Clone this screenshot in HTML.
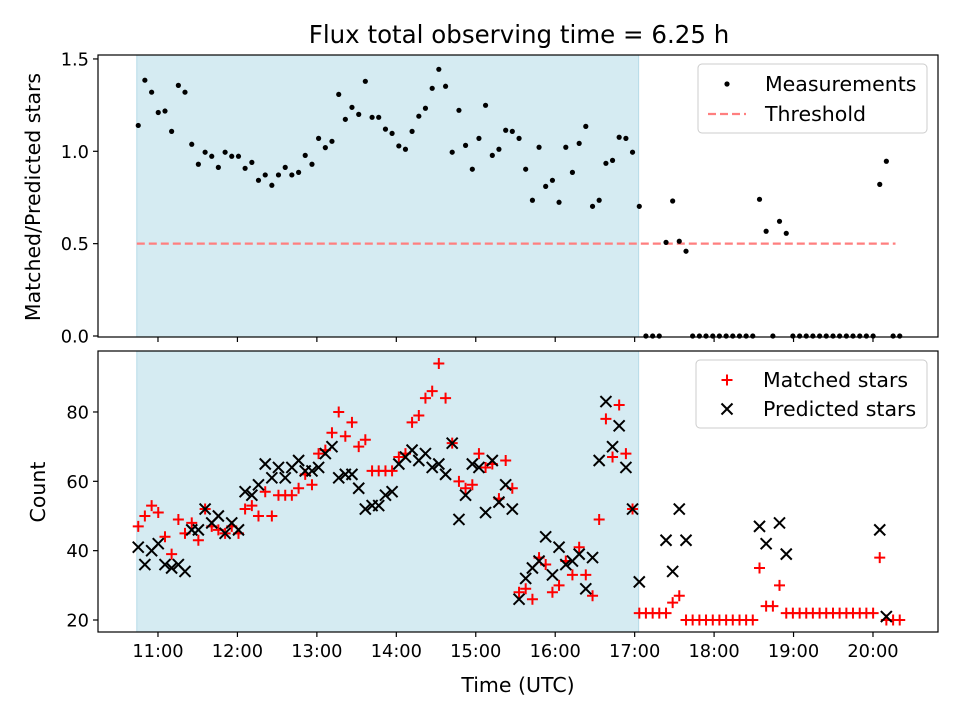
<!DOCTYPE html>
<html><head><meta charset="utf-8"><style>
html,body{margin:0;padding:0;background:#fff}
svg{display:block;font-family:"DejaVu Sans","Liberation Sans",sans-serif}
</style></head><body>
<svg id="fig" width="960" height="720" viewBox="0 0 960 720" xmlns="http://www.w3.org/2000/svg"></svg>
<script>
// time of each observation, minutes of day (UTC)
const times = [645.1,650.1,655.2,660.2,665.3,670.3,675.4,680.4,685.5,690.5,
695.6,700.6,705.6,710.7,715.7,720.8,725.8,730.9,735.9,741.0,
746.0,751.0,756.1,761.1,766.2,771.2,776.3,781.3,786.4,791.4,
796.5,801.5,806.5,811.6,816.6,821.7,826.7,831.8,836.8,841.9,
846.9,851.9,857.0,862.0,867.1,872.1,877.2,882.2,887.3,892.3,
897.4,902.4,907.4,912.5,917.5,922.6,927.6,932.7,937.7,942.8,
947.8,952.8,957.9,962.9,968.0,973.0,978.1,983.1,988.2,993.2,
998.3,1003.3,1008.3,1013.4,1018.4,1023.5,1028.5,1033.6,1038.6,1043.7,
1048.7,1053.7,1058.8,1063.8,1068.9,1073.9,1079.0,1084.0,1089.1,1094.1,
1099.2,1104.2,1109.2,1114.3,1119.3,1124.4,1129.4,1134.5,1139.5,1144.6,
1149.6,1154.6,1159.7,1164.7,1169.8,1174.8,1179.9,1184.9,1190.0,1195.0,
1200.1,1205.1,1210.1,1215.2,1220.2];
const ratio = [1.14,1.385,1.32,1.21,1.218,1.108,1.357,1.32,1.038,0.93,
0.995,0.973,0.913,0.995,0.973,0.973,0.908,0.94,0.843,0.872,
0.816,0.872,0.913,0.872,0.886,0.978,0.93,1.07,1.02,1.054,
1.308,1.173,1.238,1.2,1.379,1.184,1.184,1.12,1.097,1.029,
1.011,1.108,1.19,1.233,1.341,1.444,1.352,0.995,1.222,1.032,
0.903,1.07,1.249,0.978,1.011,1.114,1.108,1.07,0.903,0.735,
1.022,0.81,0.843,0.724,1.022,0.886,1.043,1.135,0.702,0.735,
0.935,0.951,1.076,1.07,0.995,0.702,0,0,0,0.507,
0.731,0.513,0.459,0,0,0,0,0,0,0,
0,0,0,0.74,0.567,0,0.621,0.556,0,0,
0,0,0,0,0,0,0,0,0,0,
0,0.821,0.946,0,0];
const matched = [47,50,53,51,44,39,49,45,48,43,
52,47,46,45,47,45,52,53,50,57,
50,56,56,56,58,62,59,68,69,74,
80,73,77,70,72,63,63,63,63,67,
68,77,79,84,86,94,84,71,60,58,
59,68,64,65,55,66,58,28,29,26,
38,36,28,30,37,33,41,33,27,49,
78,67,82,68,52,22,22,22,22,22,
25,27,20,20,20,20,20,20,20,20,
20,20,20,35,24,24,30,22,22,22,
22,22,22,22,22,22,22,22,22,22,
22,38,20,20,20];
const predicted = [41,36,40,42,36,35,36,34,46,46,
52,48,50,45,48,46,57,56,59,65,
61,64,61,64,66,63,63,64,68,70,
61,62,62,58,52,53,53,56,57,65,
67,69,66,68,64,65,62,71,49,56,
65,64,51,66,54,59,52,26,32,35,
37,44,33,41,36,37,39,29,38,66,
83,70,76,64,52,31,0,0,0,43,
34,52,43,0,0,0,0,0,0,0,
0,0,0,47,42,0,48,39,0,0,
0,0,0,0,0,0,0,0,0,0,
0,46,21,0,0];
const xTickLabels = ["11:00","12:00","13:00","14:00","15:00","16:00","17:00","18:00","19:00","20:00"];
const xTickVals = [660,720,780,840,900,960,1020,1080,1140,1200];
const topTicks = [0,0.5,1.0,1.5];
const topTickLabels = ["0.0","0.5","1.0","1.5"];
const botTicks = [20,40,60,80];
const threshold = 0.5;
const thrStart = 644, thrEnd = 1217;
const shadeStart = 644, shadeEnd = 1023;

const NS="http://www.w3.org/2000/svg";
const svg=document.getElementById('fig');
function mk(tag,attrs,parent){const e=document.createElementNS(NS,tag);for(const k in attrs)e.setAttribute(k,attrs[k]);(parent||svg).appendChild(e);return e;}

const L=98,R=938;
const X=m=>L+(m-614.7)/(1249.1-614.7)*(R-L);
const TT=55,TB=337;
const YT=v=>336-v*184.7;
const BT=351,BB=632;
const YB=v=>620-(v-20)*3.467;
const TICKF=17.8, LABF=20.5;

let t=mk('text',{x:519,y:43,'text-anchor':'middle','font-size':24.5,fill:'#000'});
t.textContent='Flux total observing time = 6.25 h';



function panel(top,bot,name){
  const g=mk('g',{});
  
  
  const sh=mk('rect',{x:X(shadeStart),y:top,width:X(shadeEnd)-X(shadeStart),height:bot-top,fill:'#d5ebf2',stroke:'#b7dbe8','stroke-width':1},g);
  
  
  return g;
}
const gTop=panel(TT,TB,'ratio-panel');
const gBot=panel(BT,BB,'count-panel');

const th=mk('line',{x1:X(thrStart),x2:X(thrEnd),y1:YT(threshold),y2:YT(threshold),stroke:'#ff7f7f','stroke-width':2.2,'stroke-dasharray':'8,4'},gTop);



for(let i=0;i<times.length;i++){
  const c=mk('circle',{cx:X(times[i]),cy:YT(ratio[i]),r:2.6,fill:'#000'},gTop);
  
  
}
const cp=mk('clipPath',{id:'cb'});mk('rect',{x:L,y:BT,width:R-L,height:BB-BT},cp);
const gm=mk('g',{'clip-path':'url(#cb)'},gBot);
function plus(cx,cy,parent,s){return mk('path',{d:`M${cx-s},${cy}H${cx+s}M${cx},${cy-s}V${cy+s}`,stroke:'#f00','stroke-width':2,fill:'none'},parent);}
function cross(cx,cy,parent,s){return mk('path',{d:`M${cx-s},${cy-s}L${cx+s},${cy+s}M${cx-s},${cy+s}L${cx+s},${cy-s}`,stroke:'#000','stroke-width':2,fill:'none'},parent);}
for(let i=0;i<times.length;i++){
  const p=plus(X(times[i]),YB(matched[i]),gm,5.5);
  
  
}
for(let i=0;i<times.length;i++){
  if(predicted[i]<=0)continue;
  const p=cross(X(times[i]),YB(predicted[i]),gm,5.5);
  
  
}

function frame(top,bot,g){const f=mk('rect',{x:L,y:top,width:R-L,height:bot-top,fill:'none',stroke:'#000','stroke-width':1.2},g);}
frame(TT,TB,gTop);frame(BT,BB,gBot);
for(let k=0;k<xTickVals.length;k++){
  const x=X(xTickVals[k]);
  mk('line',{x1:x,x2:x,y1:TB,y2:TB+5,stroke:'#000','stroke-width':1.2},gTop);
  mk('line',{x1:x,x2:x,y1:BB,y2:BB+5,stroke:'#000','stroke-width':1.2},gBot);
  const tx=mk('text',{x:x,y:BB+25,'text-anchor':'middle','font-size':TICKF},gBot);
  tx.textContent=xTickLabels[k];
  
  
}
for(let k=0;k<topTicks.length;k++){
  const y=YT(topTicks[k]);
  mk('line',{x1:L-5,x2:L,y1:y,y2:y,stroke:'#000','stroke-width':1.2},gTop);
  const tx=mk('text',{x:L-9,y:y+6.5,'text-anchor':'end','font-size':TICKF},gTop);
  tx.textContent=topTickLabels[k];
  
  
}
for(let k=0;k<botTicks.length;k++){
  const y=YB(botTicks[k]);
  mk('line',{x1:L-5,x2:L,y1:y,y2:y,stroke:'#000','stroke-width':1.2},gBot);
  const tx=mk('text',{x:L-9,y:y+6.5,'text-anchor':'end','font-size':TICKF},gBot);
  tx.textContent=String(botTicks[k]);
  
  
}
let a=mk('text',{x:0,y:0,'text-anchor':'middle','font-size':LABF,transform:'translate(40,197) rotate(-90)'});
a.textContent='Matched/Predicted stars';


a=mk('text',{x:0,y:0,'text-anchor':'middle','font-size':LABF,transform:'translate(45,492) rotate(-90)'});
a.textContent='Count';


a=mk('text',{x:518,y:692,'text-anchor':'middle','font-size':LABF});
a.textContent='Time (UTC)';



function legendBox(x,y,w,h,name){const r=mk('rect',{x:x,y:y,width:w,height:h,rx:4,fill:'#fff','fill-opacity':0.85,stroke:'#ccc','stroke-width':1});}
legendBox(698,64,229,69,'top-legend');
let c=mk('circle',{cx:727,cy:84,r:2.6,fill:'#000'});


let lt=mk('text',{x:765,y:91,'font-size':LABF});lt.textContent='Measurements';


let ll=mk('line',{x1:708,x2:746,y1:114,y2:114,stroke:'#ff7f7f','stroke-width':2.2,'stroke-dasharray':'8,4'});


lt=mk('text',{x:765,y:121,'font-size':LABF});lt.textContent='Threshold';



legendBox(696,360,231,68,'bottom-legend');
let pm=plus(727,380,svg,5.5);


lt=mk('text',{x:763,y:387,'font-size':LABF});lt.textContent='Matched stars';


pm=cross(727,409,svg,5.5);


lt=mk('text',{x:763,y:416,'font-size':LABF});lt.textContent='Predicted stars';


</script>
</body></html>
